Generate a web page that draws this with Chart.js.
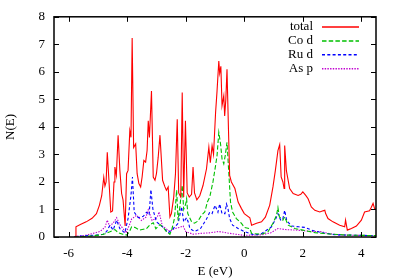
<!DOCTYPE html>
<html>
<head>
<meta charset="utf-8">
<script src="https://cdn.jsdelivr.net/npm/chart.js@4.4.1/dist/chart.umd.min.js"></script>
<style>
  html, body { margin: 0; padding: 0; background: #fff; }
  #wrap { width: 399px; height: 279px; }
</style>
</head>
<body>
<div id="wrap"><canvas id="chart" width="399" height="279"></canvas></div>
<script>
// energies (eV) and densities
const totalE = [-5.76,-5.75,-5.6,-5.4,-5.2,-5.05,-4.95,-4.87,-4.8,-4.76,-4.72,-4.68,-4.62,-4.56,-4.5,-4.45,-4.42,-4.37,-4.31,-4.25,-4.19,-4.14,-4.07,-4.02,-3.97,-3.91,-3.87,-3.83,-3.78,-3.71,-3.66,-3.6,-3.54,-3.49,-3.43,-3.37,-3.32,-3.28,-3.24,-3.17,-3.11,-3.05,-3.0,-2.94,-2.88,-2.79,-2.71,-2.66,-2.6,-2.54,-2.49,-2.41,-2.35,-2.29,-2.24,-2.17,-2.12,-2.07,-2.01,-1.95,-1.88,-1.8,-1.75,-1.7,-1.62,-1.52,-1.41,-1.29,-1.21,-1.16,-1.1,-1.05,-0.98,-0.93,-0.87,-0.84,-0.8,-0.76,-0.7,-0.67,-0.63,-0.59,-0.54,-0.5,-0.44,-0.32,-0.21,-0.1,0.0,0.19,0.25,0.42,0.59,0.72,0.87,0.98,1.06,1.15,1.21,1.26,1.32,1.36,1.38,1.44,1.55,1.67,1.84,1.93,2.0,2.1,2.18,2.29,2.41,2.58,2.69,2.75,2.78,2.86,3.03,3.26,3.43,3.46,3.52,3.66,3.83,4.0,4.11,4.28,4.34,4.4,4.45,4.5];
const totalN = [0,0.37,0.45,0.55,0.68,0.85,1.15,1.5,2.17,1.85,2.0,3.08,2.0,0.91,0.95,2.0,2.54,2.24,3.7,2.42,1.58,1.34,0.4,2.3,2.42,3.86,3.62,7.23,3.25,3.38,2.3,1.94,1.82,2.18,2.78,2.72,3.14,4.22,3.62,5.3,2.18,2.06,2.3,2.9,3.7,2.06,1.82,1.7,1.82,0.73,0.85,1.45,2.3,4.28,1.6,1.45,5.25,1.45,4.22,1.6,1.45,1.55,2.54,1.6,1.35,1.5,1.87,2.48,3.26,2.7,3.32,3.0,4.52,5.31,6.39,5.95,6.2,4.77,5.13,4.4,5.0,6.09,3.92,2.24,2.0,1.76,1.27,1.04,0.85,0.7,0.43,0.5,0.55,0.72,1.16,1.82,2.4,3.14,3.36,2.18,2.0,1.76,3.32,2.4,1.76,1.58,1.51,1.55,1.64,1.51,1.39,1.09,0.97,0.91,0.95,0.97,0.85,0.67,0.55,0.43,0.37,0.61,0.25,0.31,0.4,0.61,0.91,0.95,1.08,1.22,1.04,1.0];

const coE = [-5.8,-5.5,-5.2,-4.93,-4.75,-4.59,-4.42,-4.3,-4.15,-4.02,-3.92,-3.85,-3.74,-3.57,-3.45,-3.34,-3.22,-3.11,-3.02,-2.88,-2.77,-2.66,-2.54,-2.47,-2.4,-2.37,-2.31,-2.26,-2.2,-2.12,-2.07,-2.0,-1.97,-1.93,-1.8,-1.7,-1.58,-1.46,-1.35,-1.26,-1.18,-1.07,-0.98,-0.93,-0.87,-0.81,-0.76,-0.7,-0.65,-0.59,-0.53,-0.47,-0.4,-0.27,-0.1,0.0,0.19,0.25,0.59,0.81,0.98,1.1,1.15,1.2,1.32,1.38,1.5,1.72,2.0,2.41,2.9,3.5,4.5];
const coN = [0,0.02,0.04,0.07,0.12,0.19,0.27,0.15,0.1,0.07,0.2,0.37,0.35,0.25,0.28,0.3,0.45,0.52,0.3,0.45,0.35,0.2,0.1,0.3,0.6,0.85,1.7,0.6,1.1,1.88,1.0,1.2,1.39,0.85,0.55,0.5,0.58,0.79,0.91,1.27,1.45,2.0,2.6,2.96,3.8,3.38,2.84,2.66,2.96,3.44,2.36,1.27,0.91,0.67,0.5,0.35,0.3,0.13,0.1,0.19,0.5,0.79,1.07,0.73,0.61,0.73,0.43,0.31,0.25,0.16,0.11,0.07,0.05];

const ruE = [-5.8,-5.6,-5.04,-4.82,-4.7,-4.59,-4.48,-4.36,-4.25,-4.08,-3.97,-3.87,-3.82,-3.76,-3.62,-3.45,-3.34,-3.25,-3.19,-3.12,-3.0,-2.77,-2.6,-2.43,-2.26,-2.14,-2.07,-1.97,-1.9,-1.86,-1.7,-1.5,-1.29,-1.18,-1.1,-1.0,-0.9,-0.84,-0.76,-0.66,-0.61,-0.56,-0.5,-0.4,-0.21,0.0,0.36,0.6,0.93,1.08,1.15,1.25,1.32,1.38,1.45,1.61,1.85,2.07,2.3,2.63,3.1,4.5];
const ruN = [0.02,0.03,0.07,0.1,0.2,0.43,0.25,0.61,0.3,0.15,0.67,1.52,2.18,0.9,0.7,0.75,0.9,0.8,1.72,1.0,0.55,0.35,0.15,0.3,0.5,1.1,0.55,0.7,0.5,0.31,0.2,0.3,0.65,0.9,0.85,1.15,0.9,1.2,0.85,0.85,1.2,1.05,0.67,0.43,0.31,0.2,0.07,0.13,0.37,0.67,0.85,0.6,0.67,0.97,0.6,0.4,0.37,0.35,0.25,0.16,0.08,0.05];

const asE = [-5.8,-5.5,-5.27,-4.93,-4.76,-4.68,-4.6,-4.48,-4.36,-4.25,-4.14,-4.04,-3.9,-3.85,-3.68,-3.51,-3.36,-3.28,-3.15,-2.98,-2.91,-2.8,-2.54,-2.4,-2.2,-2.09,-2.0,-1.75,-1.5,-1.2,-0.87,-0.6,-0.3,0.0,0.6,0.9,1.15,1.4,1.8,2.29,2.6,2.9,3.3,4.5];
const asN = [0.02,0.05,0.1,0.2,0.35,0.61,0.4,0.5,0.7,0.45,0.3,0.15,0.5,0.65,0.79,0.6,0.72,0.99,0.6,0.7,0.91,0.4,0.2,0.3,0.35,0.4,0.2,0.1,0.13,0.15,0.2,0.15,0.1,0.06,0.08,0.15,0.31,0.27,0.25,0.2,0.2,0.12,0.07,0.05];

const seriesNames = ['total', 'Co d', 'Ru d', 'As p'];
const seriesColors = ['rgb(255,0,0)', 'rgb(0,192,0)', 'rgb(0,0,255)', 'rgb(192,0,208)'];
const seriesDash = [[], [4.5, 2.2], [3, 2.3], [1.4, 1.3]];
const xTicks = [-6, -4, -2, 0, 2, 4];
const yTicks = [0, 1, 2, 3, 4, 5, 6, 7, 8];

const pts = (xs, ys) => xs.map((x, i) => ({ x: x, y: ys[i] }));
const FONT = '"Liberation Serif", "Times New Roman", serif';

// key: text right aligned, coloured sample to the right
const keyPlugin = {
  id: 'key',
  afterDatasetsDraw(chart) {
    const ctx = chart.ctx;
    ctx.save();
    ctx.font = '13px ' + FONT;
    ctx.textAlign = 'right';
    ctx.textBaseline = 'middle';
    for (let i = 0; i < seriesNames.length; i++) {
      const y = 27 + i * 13.9;
      ctx.fillStyle = '#000';
      ctx.fillText(seriesNames[i], 313, y);
      ctx.beginPath();
      ctx.setLineDash(seriesDash[i]);
      ctx.lineWidth = 1.5;
      ctx.strokeStyle = seriesColors[i];
      ctx.moveTo(322, y);
      ctx.lineTo(359, y);
      ctx.stroke();
    }
    ctx.restore();
  }
};

// gnuplot style frame with inward ticks on all sides
const framePlugin = {
  id: 'frame',
  afterDraw(chart) {
    const { ctx, chartArea: a, scales } = chart;
    ctx.save();
    ctx.setLineDash([]);
    ctx.strokeStyle = '#000';
    ctx.lineWidth = 1;
    xTicks.forEach(v => {
      const px = Math.round(scales.x.getPixelForValue(v)) + 0.5;
      ctx.beginPath();
      ctx.moveTo(px, a.bottom); ctx.lineTo(px, a.bottom - 5);
      ctx.moveTo(px, a.top); ctx.lineTo(px, a.top + 5);
      ctx.stroke();
    });
    yTicks.forEach(v => {
      const py = Math.round(scales.y.getPixelForValue(v)) + 0.5;
      ctx.beginPath();
      ctx.moveTo(a.left, py); ctx.lineTo(a.left + 5, py);
      ctx.moveTo(a.right, py); ctx.lineTo(a.right - 5, py);
      ctx.stroke();
    });
    ctx.lineWidth = 1.5;
    ctx.strokeRect(a.left, a.top, a.right - a.left, a.bottom - a.top);
    ctx.restore();
  }
};

const line = (i, xs, ys) => ({
  label: seriesNames[i],
  data: pts(xs, ys),
  borderColor: seriesColors[i],
  borderWidth: 1.1,
  borderDash: seriesDash[i],
  pointRadius: 0,
  tension: 0,
  fill: false
});

new Chart(document.getElementById('chart'), {
  type: 'line',
  data: {
    datasets: [
      line(0, totalE, totalN),
      line(1, coE, coN),
      line(2, ruE, ruN),
      line(3, asE, asN)
    ]
  },
  options: {
    responsive: false,
    animation: false,
    layout: { padding: { left: 0, right: 23, top: 16, bottom: 0 } },
    plugins: { legend: { display: false }, tooltip: { enabled: false } },
    scales: {
      x: {
        type: 'linear',
        min: -6.5, max: 4.5,
        afterBuildTicks: s => { s.ticks = xTicks.map(v => ({ value: v })); },
        afterFit: s => { s.height = 42; },
        grid: { display: false, drawTicks: false },
        border: { display: false },
        ticks: { color: '#000', padding: 9, font: { family: FONT, size: 13 } },
        title: { display: true, text: 'E (eV)', color: '#000', padding: { top: 0, bottom: 0 }, font: { family: FONT, size: 13 } }
      },
      y: {
        type: 'linear',
        min: 0, max: 8,
        afterBuildTicks: s => { s.ticks = yTicks.map(v => ({ value: v })); },
        afterFit: s => { s.width = 54; },
        grid: { display: false, drawTicks: false },
        border: { display: false },
        ticks: { color: '#000', padding: 9, font: { family: FONT, size: 13 } },
        title: { display: true, text: 'N(E)', color: '#000', padding: { top: 3, bottom: 0 }, font: { family: FONT, size: 13 } }
      }
    }
  },
  plugins: [keyPlugin, framePlugin]
});
</script>
</body>
</html>
